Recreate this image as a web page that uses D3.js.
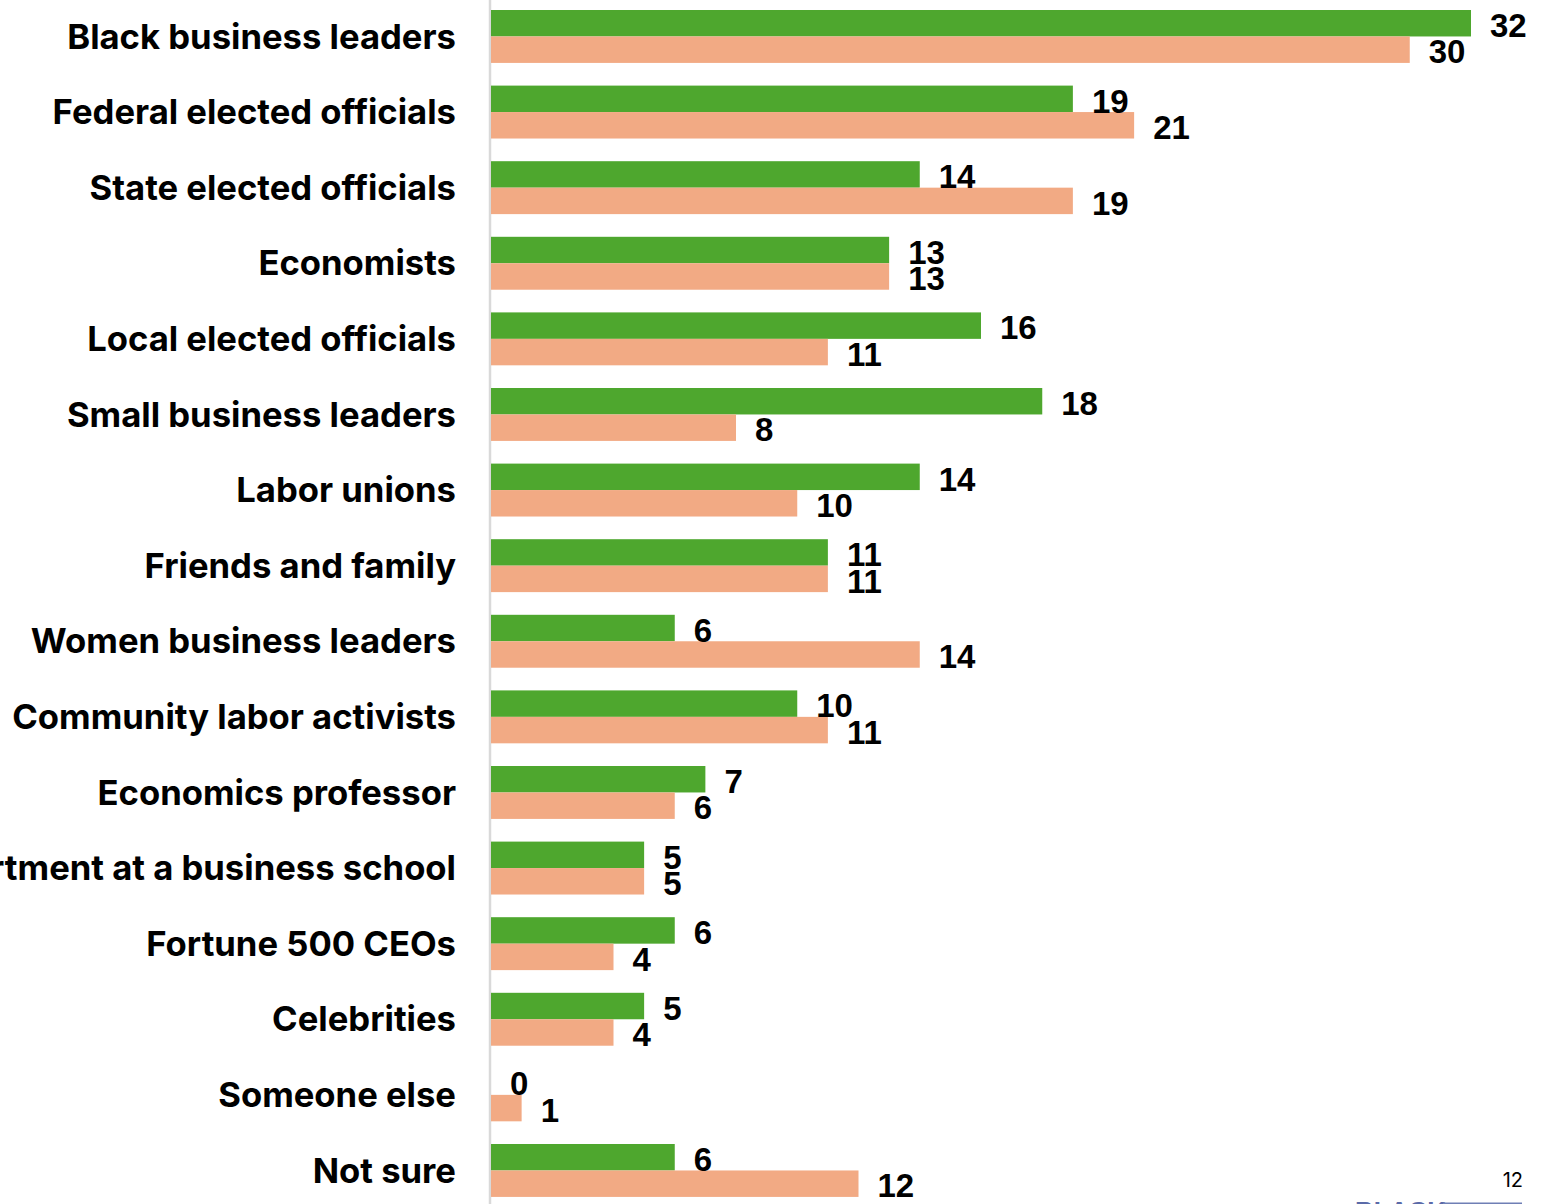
<!DOCTYPE html>
<html>
<head>
<meta charset="utf-8">
<script src="https://cdn.jsdelivr.net/npm/d3@7"></script>
<style>
  html, body { margin: 0; padding: 0; background: #fff; overflow: hidden; }
  svg { display: block; }
</style>
</head>
<body>
<svg id="chart" width="1554" height="1204"></svg>
<script>
// Who respondents trust on the economy — two groups per source
const categories = [
  "Black business leaders",
  "Federal elected officials",
  "State elected officials",
  "Economists",
  "Local elected officials",
  "Small business leaders",
  "Labor unions",
  "Friends and family",
  "Women business leaders",
  "Community labor activists",
  "Economics professor",
  "Department at a business school",
  "Fortune 500 CEOs",
  "Celebrities",
  "Someone else",
  "Not sure"
];
const seriesA = [32, 19, 14, 13, 16, 18, 14, 11, 6, 10, 7, 5, 6, 5, 0, 6];
const seriesB = [30, 21, 19, 13, 11, 8, 10, 11, 14, 11, 6, 5, 4, 4, 1, 12];
const seriesKeys = ["seriesA", "seriesB"];
const seriesColors = ["#4EA72E", "#F2AA84"];

const rows = categories.map((c, i) => ({ category: c, seriesA: seriesA[i], seriesB: seriesB[i] }));

const svg = d3.select("#chart");
const x0 = 491;

const x = d3.scaleLinear().domain([0, 32]).range([x0, 1471]);

const y = d3.scaleBand()
  .domain(categories)
  .range([-1.34, 1208.26])
  .paddingInner(0.3)
  .paddingOuter(0.15);

const ySub = d3.scaleBand().domain(seriesKeys).range([0, y.bandwidth()]);
const color = d3.scaleOrdinal().domain(seriesKeys).range(seriesColors);

// vertical baseline
svg.append("line")
  .attr("x1", 490).attr("x2", 490)
  .attr("y1", 0).attr("y2", 1204)
  .attr("stroke", "#d9d9d9").attr("stroke-width", 2.5);

const groups = svg.append("g").selectAll("g")
  .data(rows)
  .join("g")
  .attr("transform", d => `translate(0,${y(d.category)})`);

groups.selectAll("rect")
  .data(d => seriesKeys.map(k => ({ key: k, value: d[k] })))
  .join("rect")
  .attr("x", x0)
  .attr("y", d => ySub(d.key))
  .attr("width", d => x(d.value) - x0)
  .attr("height", ySub.bandwidth())
  .attr("fill", d => color(d.key));

groups.selectAll("text.value")
  .data(d => seriesKeys.map(k => ({ key: k, value: d[k] })))
  .join("text")
  .attr("class", "value")
  .attr("x", d => x(d.value) + 19)
  .attr("y", d => ySub(d.key) + ySub.bandwidth() + 0.5)
  .attr("font-family", "'Liberation Sans', Arial, sans-serif")
  .attr("font-weight", 700)
  .attr("font-size", 33)
  .attr("fill", "#000")
  .text(d => d.value);

// category labels on the left
const yAxis = d3.axisLeft(y).tickSize(0).tickPadding(0);
const axisG = svg.append("g")
  .attr("transform", "translate(456,0)")
  .call(yAxis);
axisG.select(".domain").remove();
axisG.selectAll("text")
  .attr("font-family", "Inter, 'Open Sans', sans-serif")
  .attr("font-weight", 700)
  .attr("font-size", 32)
  .attr("fill", "#000")
  .attr("dy", "0.32em")
  .attr("y", 1);

// fit the label font to the target width of the first label
const first = axisG.select("text").node();
const w = first.getComputedTextLength();
const fs = 32 * 389 / w;
axisG.selectAll("text").attr("font-size", fs);

// page number
svg.append("text")
  .attr("x", 1523).attr("y", 1187)
  .attr("text-anchor", "end")
  .attr("font-family", "Inter, 'Open Sans', sans-serif")
  .attr("font-size", 20)
  .attr("fill", "#000")
  .text("12");

// footer logo peeking in at the bottom edge
svg.append("text")
  .attr("x", 1355).attr("y", 1220)
  .attr("font-family", "'Liberation Sans', Arial, sans-serif")
  .attr("font-weight", 700)
  .attr("font-size", 26)
  .attr("fill", "#5a6aa8")
  .text("BLACK");
svg.append("line")
  .attr("x1", 1443).attr("x2", 1522)
  .attr("y1", 1203.5).attr("y2", 1203.5)
  .attr("stroke", "#6f7fb5").attr("stroke-width", 2);
</script>
</body>
</html>
